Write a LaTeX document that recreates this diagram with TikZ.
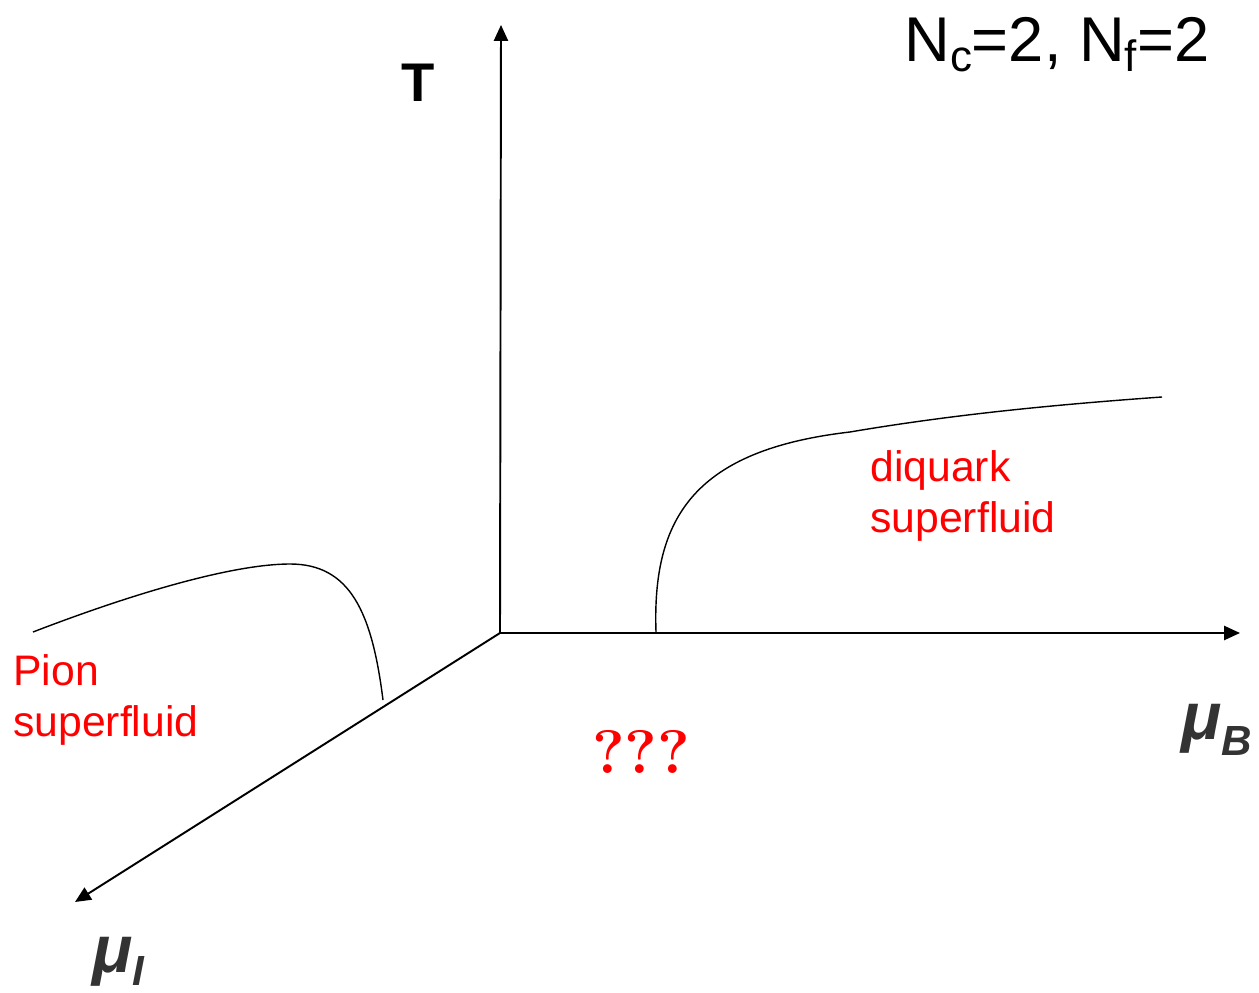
\documentclass[tikz,border=0pt]{standalone}
\usepackage{fontspec}
\setmainfont{Liberation Sans}
\newfontfamily\serifqm{Latin Modern Roman}
\usetikzlibrary{arrows.meta}
\definecolor{phasered}{RGB}{255,0,0}
\definecolor{axisgray}{RGB}{51,51,51}
\tikzset{
  axis/.style={line width=1.1pt,-{Triangle[length=9pt,width=8pt]}},
  border/.style={line width=0.8pt},
  phase/.style={text=phasered,inner sep=0pt,align=left,font=\fontsize{24.3}{29}\selectfont},
  axislabel/.style={text=axisgray,inner sep=0pt,font=\fontsize{38}{42}\selectfont\bfseries\itshape}
}
\begin{document}
\begin{tikzpicture}[x=0.02cm,y=0.02cm]
\useasboundingbox (0,0) rectangle (1259,992);

% axes
\coordinate (O) at (500,359);
\coordinate (Ttop) at (501,967);
\coordinate (muBend) at (1240,359);
\coordinate (muIend) at (75,90);
\draw[axis] (O) -- (Ttop);
\draw[axis] (O) -- (muBend);
\draw[axis] (O) -- (muIend);

% phase boundaries
\coordinate (dqstart) at (656,360);
\coordinate (dqknee) at (850,560);
\coordinate (dqend) at (1162,595);
\draw[border] (dqstart) .. controls (652,475) and (695,542) .. (dqknee)
  .. controls (950,577) and (1050,587) .. (dqend);

\coordinate (pistart) at (33,360);
\coordinate (pitop) at (290,428);
\coordinate (piend) at (383,292);
\draw[border] (pistart) .. controls (150,405) and (240,428) .. (pitop)
  .. controls (350,428) and (372,380) .. (piend);

% labels
\node[phase,anchor=north west] (pion) at (13,338) {Pion\\superfluid};
\node[phase,anchor=north west] (diquark) at (870,542) {diquark\\superfluid};
\node[text=phasered,inner sep=0pt] (unknown) at (641,240) {\serifqm\bfseries\fontsize{35}{40}\selectfont ???};

\node[inner sep=0pt,font=\fontsize{31}{34}\selectfont\bfseries] (Tlabel) at (418,909) {T};
\node[inner sep=0pt,anchor=base west,font=\fontsize{36}{40}\selectfont] (title) at (904,930)
  {N\raisebox{-5.5pt}{\fontsize{25}{28}\selectfont c}=2, N\raisebox{-5.5pt}{\fontsize{25}{28}\selectfont f}=2};
\node[axislabel,anchor=base west] (muB) at (1181,253)
  {μ\raisebox{-0.25em}{\fontsize{24}{26}\selectfont B}};
\node[axislabel,anchor=base west] (muI) at (92,20)
  {μ\raisebox{-0.2em}{\fontsize{24}{26}\selectfont I}};
\end{tikzpicture}
\end{document}
